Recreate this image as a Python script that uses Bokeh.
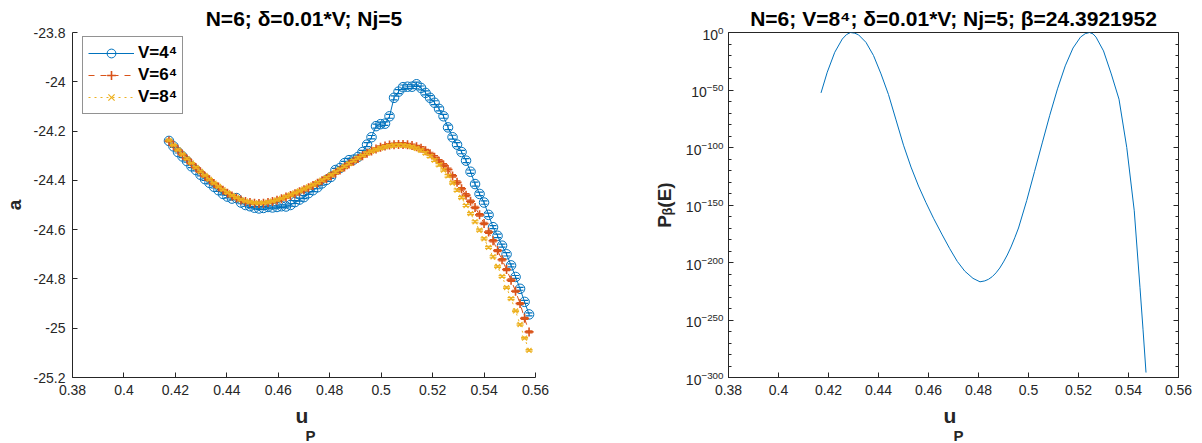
from bokeh.plotting import figure
from bokeh.layouts import row
from bokeh.models import (ColumnDataSource, FixedTicker, CustomJSTickFormatter, LogTickFormatter,
                          Legend, LegendItem, LogAxis, Title, Range1d)
from bokeh.embed import file_html
from bokeh.resources import INLINE

# ---------------- data: reweighted a(E) for three volumes ----------------
up = [0.41750, 0.41925, 0.42100, 0.42275, 0.42450, 0.42625, 0.42800, 0.42975, 0.43150, 0.43325,
      0.43500, 0.43675, 0.43850, 0.44025, 0.44200, 0.44375, 0.44550, 0.44725, 0.44900, 0.45075,
      0.45250, 0.45425, 0.45600, 0.45775, 0.45950, 0.46125, 0.46300, 0.46475, 0.46650, 0.46825,
      0.47000, 0.47175, 0.47350, 0.47525, 0.47700, 0.47875, 0.48050, 0.48225, 0.48400, 0.48575,
      0.48750, 0.48925, 0.49100, 0.49275, 0.49450, 0.49625, 0.49800, 0.49975, 0.50150, 0.50325,
      0.50500, 0.50675, 0.50850, 0.51025, 0.51200, 0.51375, 0.51550, 0.51725, 0.51900, 0.52075,
      0.52250, 0.52425, 0.52600, 0.52775, 0.52950, 0.53125, 0.53300, 0.53475, 0.53650, 0.53825,
      0.54000, 0.54175, 0.54350, 0.54525, 0.54700, 0.54875, 0.55050, 0.55225, 0.55400, 0.55575,
      0.55750]

a_v4 = [-24.240, -24.262, -24.285, -24.303, -24.322, -24.343, -24.358, -24.377, -24.395, -24.410,
        -24.426, -24.440, -24.455, -24.466, -24.474, -24.472, -24.490, -24.500, -24.505, -24.511,
        -24.514, -24.512, -24.508, -24.510, -24.508, -24.505, -24.506, -24.500, -24.488, -24.478,
        -24.468, -24.452, -24.440, -24.428, -24.412, -24.398, -24.386, -24.358, -24.350, -24.330,
        -24.318, -24.316, -24.305, -24.285, -24.255, -24.225, -24.180, -24.172, -24.170, -24.140,
        -24.065, -24.040, -24.022, -24.020, -24.020, -24.010, -24.025, -24.045, -24.065, -24.085,
        -24.110, -24.140, -24.185, -24.225, -24.255, -24.285, -24.320, -24.365, -24.415, -24.455,
        -24.490, -24.540, -24.590, -24.625, -24.665, -24.700, -24.745, -24.792, -24.840, -24.893,
        -24.944]
err_v4 = [0.004, 0.004, 0.004, 0.005, 0.004, 0.005, 0.004, 0.005, 0.005, 0.004,
          0.005, 0.005, 0.004, 0.005, 0.005, 0.006, 0.005, 0.005, 0.006, 0.005,
          0.005, 0.006, 0.005, 0.006, 0.005, 0.006, 0.006, 0.005, 0.006, 0.006,
          0.006, 0.005, 0.006, 0.006, 0.007, 0.006, 0.006, 0.007, 0.006, 0.007,
          0.007, 0.006, 0.007, 0.007, 0.008, 0.007, 0.008, 0.008, 0.007, 0.008,
          0.008, 0.008, 0.009, 0.008, 0.008, 0.009, 0.008, 0.008, 0.009, 0.008,
          0.008, 0.008, 0.009, 0.008, 0.008, 0.007, 0.008, 0.007, 0.008, 0.007,
          0.007, 0.007, 0.006, 0.007, 0.006, 0.007, 0.006, 0.006, 0.006, 0.006,
          0.006]

a_v6 = [-24.240, -24.258, -24.277, -24.296, -24.314, -24.332, -24.349, -24.366, -24.383, -24.398,
        -24.413, -24.427, -24.440, -24.452, -24.463, -24.472, -24.480, -24.486, -24.490, -24.493,
        -24.494, -24.493, -24.490, -24.486, -24.481, -24.475, -24.468, -24.461, -24.454, -24.446,
        -24.438, -24.430, -24.421, -24.412, -24.402, -24.392, -24.381, -24.370, -24.358, -24.346,
        -24.334, -24.322, -24.311, -24.300, -24.290, -24.281, -24.273, -24.266, -24.261, -24.257,
        -24.255, -24.254, -24.254, -24.256, -24.259, -24.264, -24.270, -24.280, -24.292, -24.306,
        -24.322, -24.338, -24.356, -24.382, -24.408, -24.434, -24.460, -24.485, -24.510, -24.540,
        -24.575, -24.610, -24.645, -24.685, -24.722, -24.762, -24.805, -24.850, -24.900, -24.960,
        -25.015]
err_v6 = [0.003, 0.003, 0.003, 0.004, 0.003, 0.003, 0.004, 0.003, 0.004, 0.003,
          0.004, 0.004, 0.003, 0.004, 0.004, 0.004, 0.003, 0.004, 0.004, 0.004,
          0.004, 0.004, 0.004, 0.005, 0.004, 0.004, 0.005, 0.004, 0.005, 0.004,
          0.005, 0.005, 0.004, 0.005, 0.005, 0.005, 0.005, 0.005, 0.005, 0.006,
          0.005, 0.006, 0.005, 0.006, 0.006, 0.005, 0.006, 0.006, 0.006, 0.006,
          0.006, 0.006, 0.007, 0.006, 0.006, 0.006, 0.007, 0.006, 0.006, 0.006,
          0.006, 0.006, 0.006, 0.005, 0.006, 0.005, 0.006, 0.005, 0.005, 0.005,
          0.005, 0.005, 0.005, 0.004, 0.005, 0.004, 0.005, 0.004, 0.004, 0.004,
          0.004]

a_v8 = [-24.238, -24.257, -24.276, -24.294, -24.312, -24.330, -24.347, -24.364, -24.380, -24.396,
        -24.411, -24.425, -24.438, -24.450, -24.461, -24.470, -24.478, -24.484, -24.488, -24.491,
        -24.492, -24.491, -24.488, -24.484, -24.479, -24.473, -24.466, -24.459, -24.451, -24.443,
        -24.435, -24.427, -24.418, -24.409, -24.399, -24.389, -24.378, -24.367, -24.355, -24.343,
        -24.332, -24.320, -24.309, -24.299, -24.290, -24.282, -24.275, -24.269, -24.264, -24.260,
        -24.258, -24.257, -24.258, -24.260, -24.264, -24.270, -24.278, -24.289, -24.302, -24.318,
        -24.337, -24.358, -24.382, -24.410, -24.440, -24.470, -24.502, -24.535, -24.568, -24.602,
        -24.637, -24.672, -24.710, -24.750, -24.790, -24.835, -24.880, -24.930, -24.985, -25.040,
        -25.090]
err_v8 = [0.002, 0.002, 0.003, 0.002, 0.003, 0.002, 0.003, 0.003, 0.002, 0.003,
          0.003, 0.003, 0.003, 0.003, 0.003, 0.003, 0.003, 0.003, 0.003, 0.004,
          0.003, 0.003, 0.004, 0.003, 0.004, 0.003, 0.004, 0.004, 0.003, 0.004,
          0.004, 0.004, 0.004, 0.004, 0.004, 0.004, 0.004, 0.005, 0.004, 0.004,
          0.005, 0.004, 0.005, 0.004, 0.005, 0.005, 0.005, 0.005, 0.005, 0.005,
          0.005, 0.005, 0.005, 0.005, 0.005, 0.005, 0.005, 0.005, 0.005, 0.005,
          0.005, 0.004, 0.005, 0.004, 0.005, 0.004, 0.004, 0.004, 0.004, 0.004,
          0.004, 0.004, 0.004, 0.003, 0.004, 0.003, 0.004, 0.003, 0.003, 0.003,
          0.003]

series_labels = ["V=4\u2074", "V=6\u2074", "V=8\u2074"]

# ---------------- data: probability distribution at beta = 24.3921952 ----------------
up_dist = [0.4170, 0.4195, 0.4225, 0.4255, 0.4272, 0.4288, 0.4305, 0.4320, 0.4350, 0.4380,
           0.4410, 0.4440, 0.4470, 0.4500, 0.4530, 0.4560, 0.4590, 0.4620, 0.4655, 0.4685,
           0.4715, 0.4745, 0.4778, 0.4806, 0.4825, 0.4840, 0.4855, 0.4870, 0.4885, 0.4900,
           0.4915, 0.4930, 0.4945, 0.4960, 0.4993, 0.5024, 0.5055, 0.5085, 0.5116, 0.5147,
           0.5178, 0.5208, 0.5227, 0.5244, 0.5258, 0.5270, 0.5300, 0.5331, 0.5362, 0.5393,
           0.5423, 0.5446, 0.5458, 0.5470]
log10_p = [-52.5, -34.5, -17.2, -5.7, -1.8, 0.0, -0.6, -2.0, -8.6, -20.0,
           -36.0, -54.0, -76.0, -98.0, -117.0, -133.5, -148.0, -161.5, -176.0, -188.0,
           -199.0, -207.5, -213.8, -216.8, -216.0, -214.6, -212.3, -209.0, -204.8, -199.5,
           -193.5, -186.5, -178.5, -170.0, -146.0, -121.0, -96.0, -72.0, -49.0, -29.0,
           -13.5, -4.0, -1.0, 0.0, -1.2, -4.0, -16.0, -36.0, -58.0, -100.0,
           -155.0, -222.0, -258.0, -295.7]

x_ticks = [0.38, 0.40, 0.42, 0.44, 0.46, 0.48, 0.50, 0.52, 0.54, 0.56]
a_ticks = [-25.2, -25.0, -24.8, -24.6, -24.4, -24.2, -24.0, -23.8]
p_exp_major = [-300, -250, -200, -150, -100, -50, 0]

# ---------------- styling ----------------
AX = "#262626"
FONT = "Liberation Sans"
C4, C6, C8 = "#0072BD", "#D95319", "#EDB120"

x_fmt = CustomJSTickFormatter(code="return tick.toFixed(2).replace(/0$/, '');")
a_fmt = CustomJSTickFormatter(code="""
    let s = tick.toFixed(1);
    if (s.endsWith('.0')) { s = s.slice(0, -2); }
    return s;
""")
blank_fmt = CustomJSTickFormatter(code="return '';")


def style_axis(ax):
    ax.axis_line_color = AX
    ax.axis_line_width = 1
    ax.major_tick_line_color = AX
    ax.minor_tick_line_color = AX
    ax.major_tick_in = 5
    ax.major_tick_out = 0
    ax.minor_tick_in = 3
    ax.minor_tick_out = 0
    ax.major_label_text_font = FONT
    ax.major_label_text_font_size = "14px"
    ax.major_label_text_color = AX
    ax.axis_label_text_font = FONT
    ax.axis_label_text_font_size = "19px"
    ax.axis_label_text_font_style = "bold"
    ax.axis_label_text_color = AX


def style_title(p):
    p.title.text_font = FONT
    p.title.text_font_size = "21px"
    p.title.text_font_style = "bold"
    p.title.text_color = "#000000"
    p.title.align = "center"
    p.title.standoff = 5


def add_up_label(p, u_left):
    # x-axis label u_P: a "u" with a lowered, smaller "P" beside it
    p.add_layout(Title(text="u", align="left", offset=u_left, standoff=8,
                       text_font=FONT, text_font_size="21px", text_font_style="bold",
                       text_color=AX), "below")
    p.add_layout(Title(text="P", align="left", offset=u_left + 10, standoff=-12,
                       text_font=FONT, text_font_size="15px", text_font_style="bold",
                       text_color=AX), "below")


# ---------------- left panel: a(E) ----------------
p1 = figure(width=600, height=443, x_range=Range1d(0.38, 0.56), y_range=Range1d(-25.2, -23.8),
            output_backend="svg", toolbar_location=None,
            min_border_left=68, min_border_right=65, min_border_top=32, min_border_bottom=66,
            title="N=6; \u03b4=0.01*V; Nj=5")
p1.grid.visible = False
p1.outline_line_color = None
style_title(p1)
p1.xaxis.ticker = FixedTicker(ticks=x_ticks)
p1.xaxis.formatter = x_fmt
p1.yaxis.ticker = FixedTicker(ticks=a_ticks)
p1.yaxis.formatter = a_fmt
style_axis(p1.xaxis[0])
style_axis(p1.yaxis[0])
p1.xaxis.major_label_standoff = 7
p1.yaxis.major_label_standoff = 7
p1.yaxis.axis_label = "a"
p1.yaxis.axis_label_standoff = 6
add_up_label(p1, 223)

items = []
specs = [(a_v4, err_v4, C4, "circle", 9.5, 1.0, "solid", series_labels[0]),
         (a_v6, err_v6, C6, "cross", 9, 1.6, "dashed", series_labels[1]),
         (a_v8, err_v8, C8, "x", 7, 1.2, "dotted", series_labels[2])]
for vals, errs, col, mk, sz, lw, dash, lab in specs:
    src = ColumnDataSource(dict(x=up, y=vals,
                                lo=[v - e for v, e in zip(vals, errs)],
                                hi=[v + e for v, e in zip(vals, errs)]))
    ln = p1.line("x", "y", source=src, line_color=col, line_width=1, line_dash=dash)
    p1.segment(x0="x", y0="lo", x1="x", y1="hi", source=src, line_color=col, line_width=1)
    p1.scatter("x", "lo", source=src, marker="dash", size=7, line_color=col, line_width=1.2)
    p1.scatter("x", "hi", source=src, marker="dash", size=7, line_color=col, line_width=1.2)
    mr = p1.scatter("x", "y", source=src, marker=mk, size=sz, line_color=col,
                    fill_color=None, line_width=lw)
    items.append(LegendItem(label=lab, renderers=[ln, mr]))

legend = Legend(items=items, location=(10, 263), margin=0, padding=5, spacing=0,
                glyph_width=46, glyph_height=22, label_standoff=4,
                label_text_font=FONT, label_text_font_size="17px",
                label_text_font_style="bold", label_text_color="#000000",
                border_line_color=AX, border_line_width=1, background_fill_alpha=1)
p1.add_layout(legend)

# ---------------- right panel: P_beta(E) on a log scale ----------------
p_vals = [10.0 ** e for e in log10_p]
p2 = figure(width=602, height=443, x_range=Range1d(0.38, 0.56), y_range=Range1d(1e-300, 1.0),
            y_axis_type="log", output_backend="svg", toolbar_location=None,
            min_border_left=128, min_border_right=24, min_border_top=32, min_border_bottom=66,
            title="N=6; V=8\u2074; \u03b4=0.01*V; Nj=5; \u03b2=24.3921952")
p2.grid.visible = False
p2.outline_line_color = AX
p2.outline_line_width = 1
style_title(p2)
p2.line(up_dist, p_vals, line_color=C4, line_width=1)

y_major = [10.0 ** k for k in p_exp_major]
y_minor = [10.0 ** k for k in range(-300, 1, 10) if k % 50 != 0]
log_ticker = FixedTicker(ticks=y_major, minor_ticks=y_minor)
p2.xaxis.ticker = FixedTicker(ticks=x_ticks)
p2.xaxis.formatter = x_fmt
p2.yaxis.ticker = log_ticker
p2.yaxis.formatter = LogTickFormatter()
style_axis(p2.xaxis[0])
style_axis(p2.yaxis[0])
p2.xaxis.major_label_standoff = 7
p2.yaxis.major_label_standoff = 5
p2.yaxis.axis_label = "P\u1d66(E)"
p2.yaxis.axis_label_standoff = 8
add_up_label(p2, 215)

right_ax = LogAxis(ticker=log_ticker, formatter=blank_fmt, major_label_standoff=0)
style_axis(right_ax)
p2.add_layout(right_ax, "right")

out = row(p1, p2)
open("out.html", "w").write(file_html(out, INLINE))
